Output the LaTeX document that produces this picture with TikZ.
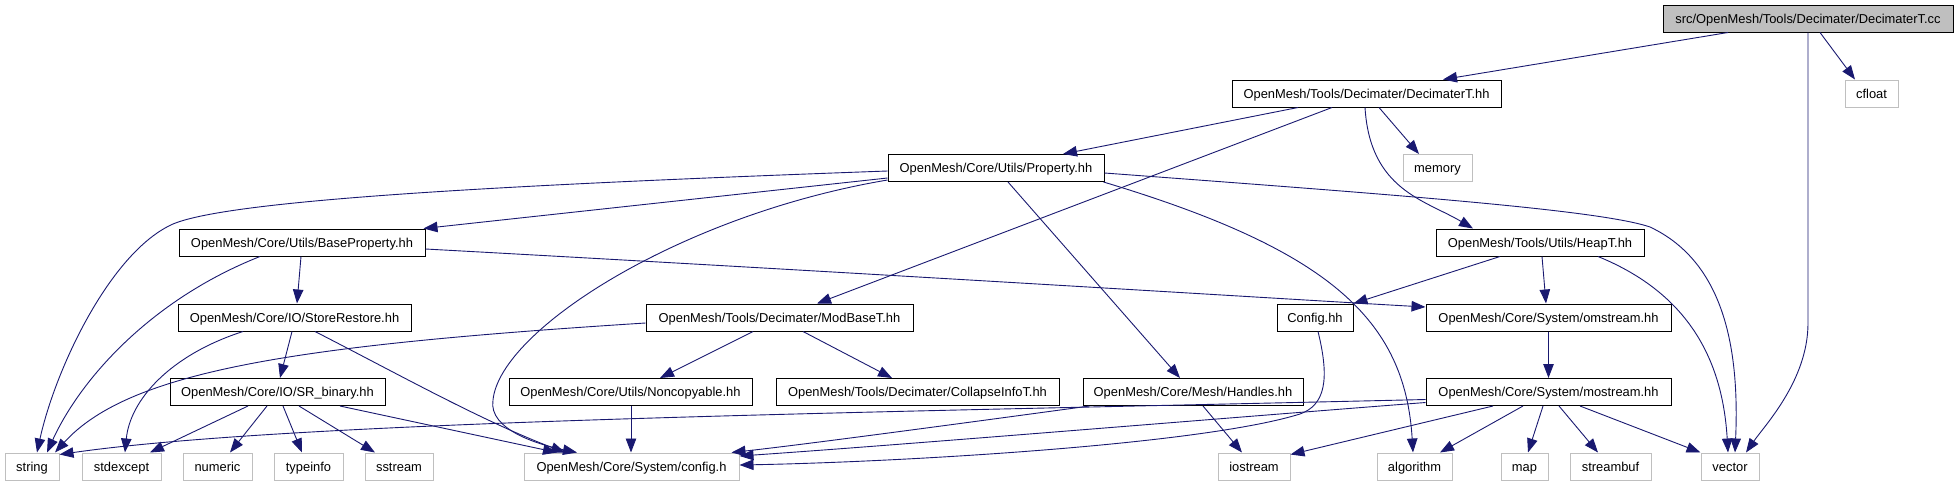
\documentclass[tikz,border=0pt]{standalone}
\usepackage{fontspec}
\setmainfont{Liberation Sans}
\usetikzlibrary{arrows.meta}
\definecolor{edgeblue}{HTML}{191970}
\definecolor{leafgray}{HTML}{BFBFBF}

\begin{document}
\begin{tikzpicture}[x=1pt, y=-1pt,
    every node/.style={font=\fontsize{12.9}{15}\selectfont, inner sep=0pt,
      minimum height=27pt, text height=11.9pt, text depth=2.7pt},
    hdr/.style={draw=black, line width=1pt, fill=white},
    srcfile/.style={draw=black, line width=1pt, fill=leafgray},
    sys/.style={draw=leafgray, line width=1pt, fill=white},
    dep/.style={draw=edgeblue, line width=0.9pt, -{Triangle[length=14pt, width=10.5pt]}}]
  \useasboundingbox (0,0) rectangle (1959,485);

  % row 0 and 1
  \node[srcfile, minimum width=290] (cc) at (1808,18.5) {src/OpenMesh/Tools/Decimater/DecimaterT.cc};
  \node[hdr, minimum width=269] (dect) at (1366.5,93.5) {OpenMesh/Tools/Decimater/DecimaterT.hh};
  \node[sys, minimum width=53] (cfloat) at (1871.5,93.5) {cfloat};

  % row 2 and 3
  \node[hdr, minimum width=216] (prop) at (996,168) {OpenMesh/Core/Utils/Property.hh};
  \node[sys, minimum width=69] (memory) at (1437.5,168) {memory};
  \node[hdr, minimum width=246] (baseprop) at (302,242.5) {OpenMesh/Core/Utils/BaseProperty.hh};
  \node[hdr, minimum width=208] (heapt) at (1540,242.5) {OpenMesh/Tools/Utils/HeapT.hh};

  % row 4
  \node[hdr, minimum width=233] (storerest) at (294.5,317.5) {OpenMesh/Core/IO/StoreRestore.hh};
  \node[hdr, minimum width=267] (modbase) at (779.5,317.5) {OpenMesh/Tools/Decimater/ModBaseT.hh};
  \node[hdr, minimum width=76] (cfghh) at (1315,317.5) {Config.hh};
  \node[hdr, minimum width=245] (omstream) at (1548.5,317.5) {OpenMesh/Core/System/omstream.hh};

  % row 5
  \node[hdr, minimum width=215] (srbin) at (277.5,392) {OpenMesh/Core/IO/SR\_binary.hh};
  \node[hdr, minimum width=243] (noncopy) at (630.5,392) {OpenMesh/Core/Utils/Noncopyable.hh};
  \node[hdr, minimum width=283] (collapse) at (917.5,392) {OpenMesh/Tools/Decimater/CollapseInfoT.hh};
  \node[hdr, minimum width=220] (handles) at (1193,392) {OpenMesh/Core/Mesh/Handles.hh};
  \node[hdr, minimum width=245] (mostream) at (1548.5,392) {OpenMesh/Core/System/mostream.hh};

  % row 6: system headers
  \foreach \n/\x/\w in {string/32/54, stdexcept/121.5/79, numeric/217.5/69, typeinfo/308.5/69,
      sstream/399/68, iostream/1254/72, algorithm/1414.5/75, map/1524.5/47, streambuf/1610.5/81, vector/1730/58}
    \node[sys, minimum width=\w] (\n) at (\x,466.5) {\n};
  \node[sys, minimum width=215] (config) at (631.5,466.5) {OpenMesh/Core/System/config.h};

  % DecimaterT.cc
  \draw[dep] ([xshift=-80]cc.south) -- ([xshift=76.5]dect.north);
  \draw[dep] ([xshift=12]cc.south) -- ([xshift=-16.5]cfloat.north);
  \draw[dep] (cc.south) -- (1808,323) .. controls (1808,380) and (1765,425) .. ([xshift=16]vector.north);

  % DecimaterT.hh
  \draw[dep] ([xshift=-68.5]dect.south) -- ([xshift=67]prop.north);
  \draw[dep] ([xshift=-34.5]dect.south) -- ([xshift=37.5]modbase.north);
  \draw[dep] ([xshift=12.5]dect.south) -- ([xshift=-18.5]memory.north);
  \draw[dep] ([xshift=-1.5]dect.south) .. controls (1370,190) and (1425,200) .. ([xshift=-67]heapt.north);

  % Property.hh
  \draw[dep] ([yshift=-3]prop.west) .. controls (500,185) and (230,200) .. (173,224)
    .. controls (110,252) and (55,370) .. ([xshift=5]string.north);
  \draw[dep] ([yshift=-10]prop.west) -- ([xshift=-2]baseprop.north east);
  \draw[dep] ([yshift=-12]prop.west) .. controls (680,215) and (500,330) .. (493,400)
    .. controls (488,430) and (540,445) .. ([xshift=-54.5]config.north);
  \draw[dep] ([xshift=12]prop.south) -- ([xshift=-13]handles.north);
  \draw[dep] ([xshift=-1]prop.south east) .. controls (1330,250) and (1405,320) .. ([xshift=-1.5]algorithm.north);
  \draw[dep] ([yshift=-5]prop.east) .. controls (1400,195) and (1600,210) .. (1650,227)
    .. controls (1720,260) and (1740,340) .. ([xshift=5]vector.north);

  % BaseProperty.hh
  \draw[dep] ([xshift=-42]baseprop.south) .. controls (150,300) and (80,380) .. ([xshift=15]string.north);
  \draw[dep] ([xshift=-1]baseprop.south) -- ([xshift=2.5]storerest.north);
  \draw[dep] ([yshift=-6.5]baseprop.east) .. controls (900,275) and (1300,300) .. ([yshift=10.5]omstream.west);

  % StoreRestore.hh
  \draw[dep] ([xshift=-51.5]storerest.south) .. controls (170,355) and (130,400) .. ([xshift=3.5]stdexcept.north);
  \draw[dep] ([xshift=-2.5]storerest.south) -- ([xshift=2.5]srbin.north);
  \draw[dep] ([xshift=20.5]storerest.south) .. controls (400,375) and (480,420) .. ([xshift=-66.5]config.north);

  % SR_binary.hh
  \foreach \t/\a/\b in {stdexcept/-29.5/28.5, numeric/-10.5/12.5, typeinfo/5.5/-6.5, sstream/21.5/-24}
    \draw[dep] ([xshift=\a]srbin.south) -- ([xshift=\b]\t.north);
  \draw[dep] ([xshift=62.5]srbin.south) -- ([xshift=-74.5]config.north);

  % ModBaseT.hh
  \draw[dep] ([yshift=-5.5]modbase.west) .. controls (300,345) and (130,370) .. ([xshift=23]string.north);
  \draw[dep] ([xshift=-26.5]modbase.south) -- ([xshift=29.5]noncopy.north);
  \draw[dep] ([xshift=23.5]modbase.south) -- ([xshift=-25.5]collapse.north);

  % Noncopyable.hh, Handles.hh, Config.hh
  \draw[dep] ([xshift=0.5]noncopy.south) -- ([xshift=-0.5]config.north);
  \draw[dep] ([xshift=7]handles.south west) .. controls (950,425) and (800,445) .. ([xshift=-8]config.north east);
  \draw[dep] ([xshift=10]handles.south) -- ([xshift=-12]iostream.north);
  \draw[dep] ([xshift=3]cfghh.south) .. controls (1330,380) and (1325,405) .. (1300,414)
    .. controls (1200,445) and (900,462) .. ([yshift=1.5]config.east);

  % HeapT.hh
  \draw[dep] ([xshift=-40]heapt.south) -- (cfghh.north east);
  \draw[dep] ([xshift=2]heapt.south) -- ([xshift=-2.5]omstream.north);
  \draw[dep] ([xshift=58]heapt.south) .. controls (1680,290) and (1722,350) .. ([xshift=-2]vector.north);

  % omstream.hh, mostream.hh
  \draw[dep] (omstream) -- (mostream);
  \draw[dep] ([yshift=-7.5]mostream.west) .. controls (900,412) and (300,420) .. ([yshift=-2]string.north east);
  \draw[dep] ([yshift=-10.5]mostream.west) .. controls (1200,420) and (900,445) .. ([yshift=10.5]config.east);
  \draw[dep] ([xshift=-55.5]mostream.south) -- ([yshift=-2]iostream.north east);
  \foreach \t/\a/\b in {algorithm/-25.5/25.5, map/-5.5/3.5, streambuf/10.5/-12.5}
    \draw[dep] ([xshift=\a]mostream.south) -- ([xshift=\b]\t.north);
  \draw[dep] ([xshift=31.5]mostream.south) -- (vector.north west);
\end{tikzpicture}
\end{document}
